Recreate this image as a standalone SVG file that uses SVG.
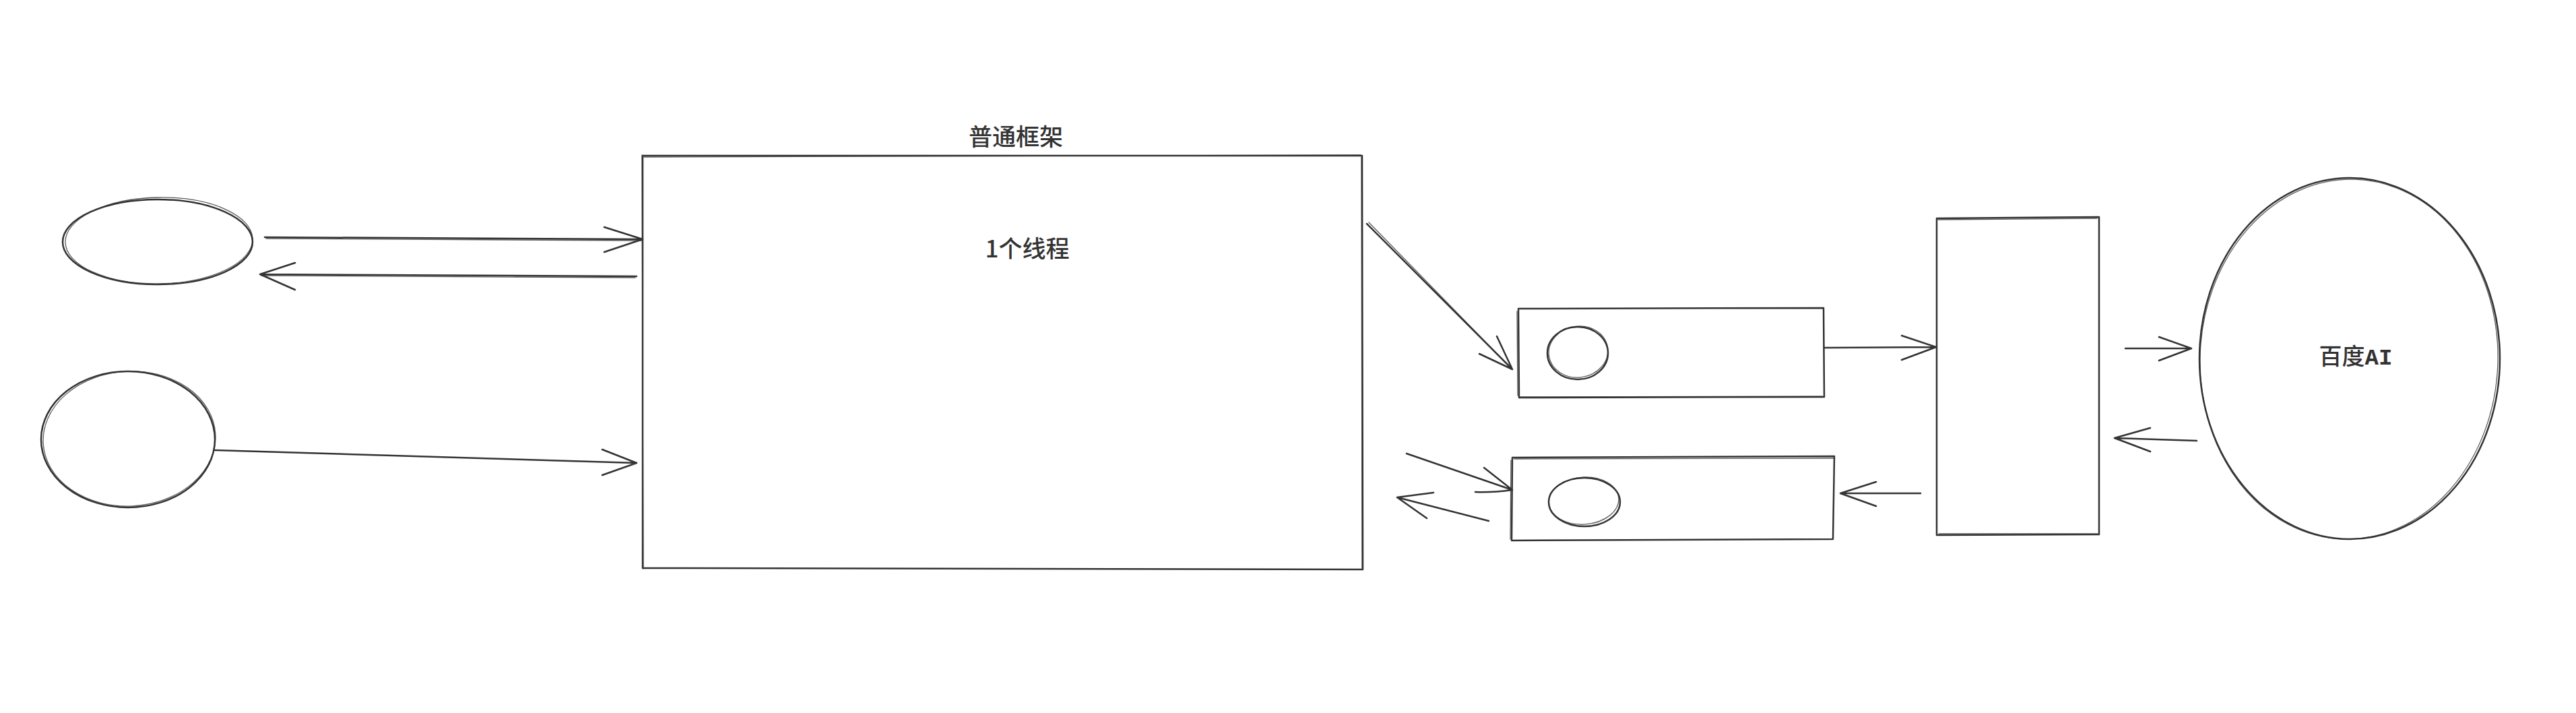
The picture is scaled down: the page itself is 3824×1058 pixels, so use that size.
<svg xmlns="http://www.w3.org/2000/svg" width="3824" height="1058" viewBox="0 0 3824 1058">
  <style>
    .s { fill: none; stroke: #333333; stroke-width: 2.5; stroke-linecap: round; stroke-linejoin: round; }
    .s2 { fill: none; stroke: #333333; stroke-width: 1.3; stroke-linecap: round; opacity: 0.8; }
    .t { font-family: "Noto Sans CJK SC", "Noto Sans", sans-serif; font-weight: 500; fill: #333333; text-anchor: middle; }
    .m { font-family: "Liberation Mono", "Noto Sans CJK SC", monospace; font-weight: 700; }
  </style>
  <rect x="0" y="0" width="3824" height="1058" fill="#ffffff"/>

  <g id="client-top">
    <ellipse class="s" cx="234" cy="359" rx="141" ry="63"/>
    <ellipse class="s2" cx="236" cy="357" rx="139" ry="64" transform="rotate(-1 236 357)"/>
  </g>

  <g id="client-bottom">
    <ellipse class="s" cx="190" cy="652" rx="129" ry="101"/>
    <ellipse class="s2" cx="192" cy="651" rx="128" ry="100" transform="rotate(-3 192 651)"/>
  </g>

  <g id="framework">
    <path class="s" d="M954 231 L2022 231 L2023 845 L954 843 Z"/>
    <path class="s2" d="M956 233 L2020 230 M2021 233 L2022 843 M953 230 L955 844"/>
    <text class="t" x="1508" y="216" font-size="35">普通框架</text>
    <text class="t" x="1525" y="382" font-size="35">1个线程</text>
  </g>

  <g id="box-a">
    <path class="s" d="M2254 458 L2707 457 L2708 589 L2255 590 Z"/>
    <path class="s2" d="M2252 462 L2253 587 M2256 589 L2706 588"/>
    <ellipse class="s" cx="2342" cy="524" rx="45" ry="39"/>
    <ellipse class="s2" cx="2343" cy="522" rx="44" ry="38" transform="rotate(-8 2343 522)"/>
  </g>

  <g id="box-b">
    <path class="s" d="M2245 679 L2723 677 L2721 800 L2244 802 Z"/>
    <path class="s2" d="M2243 683 L2242 800 M2248 681 L2722 680"/>
    <ellipse class="s" cx="2352" cy="745" rx="53" ry="36"/>
    <ellipse class="s2" cx="2351" cy="743" rx="52" ry="35" transform="rotate(-4 2351 743)"/>
  </g>

  <g id="queue">
    <path class="s" d="M2875 324 L3116 322 L3116 793 L2875 794 Z"/>
    <path class="s2" d="M2877 326 L3113 324 M2878 792 L3114 792"/>
  </g>

  <g id="baidu-ai">
    <ellipse class="s" cx="3488" cy="532" rx="223" ry="268"/>
    <ellipse class="s2" cx="3487" cy="533" rx="221" ry="267" transform="rotate(2 3487 533)"/>
    <text class="t" x="3497" y="541" font-size="34">百度<tspan class="m">AI</tspan></text>
  </g>

  <g id="connectors">
    <path class="s" d="M393 352 L954 355 M897 337 L954 355 L897 374"/>
    <path class="s2" d="M395 354 L952 357"/>
    <path class="s" d="M945 410 L386 407 M438 390 L386 407 L438 430"/>
    <path class="s2" d="M943 412 L388 409"/>
    <path class="s" d="M319 668 L945 687 M894 667 L945 687 L894 705"/>
    <path class="s" d="M2029 332 L2245 548 M2222 499 L2245 548 L2196 525"/>
    <path class="s2" d="M2032 330 L2243 546"/>
    <path class="s" d="M2708 516 L2874 515 M2823 498 L2874 515 L2823 534"/>
    <path class="s" d="M3155 517 L3253 517 M3205 500 L3253 517 L3205 535"/>
    <path class="s" d="M3261 654 L3139 650 M3192 635 L3139 650 L3192 670"/>
    <path class="s" d="M2851 732 L2732 732 M2785 715 L2732 732 L2785 751"/>
    <path class="s" d="M2088 673 L2245 727 M2203 694 L2245 727 Q2215 731 2190 730"/>
    <path class="s" d="M2210 773 L2074 738 M2128 731 L2074 738 L2118 769"/>
  </g>
</svg>
